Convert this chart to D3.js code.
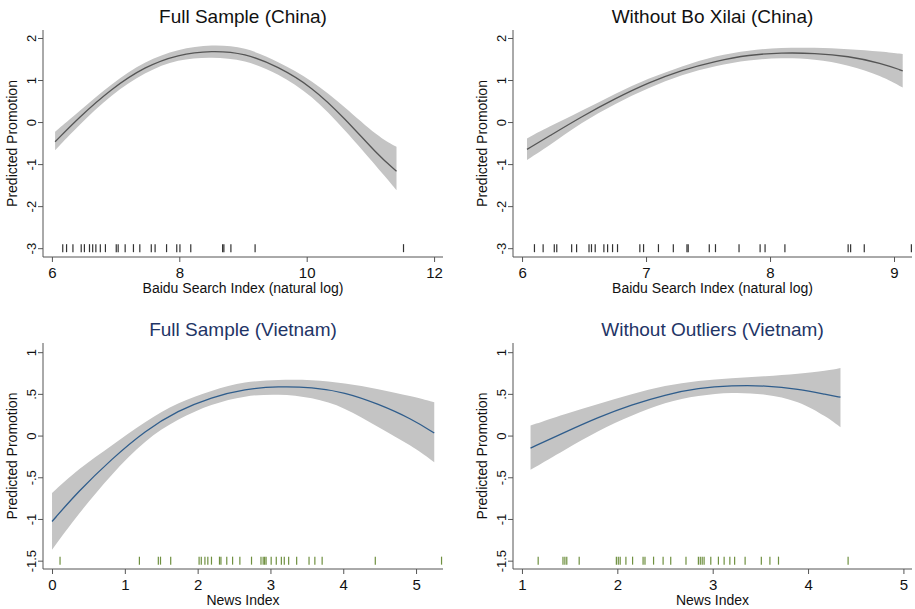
<!DOCTYPE html>
<html>
<head>
<meta charset="utf-8">
<script src="https://cdn.jsdelivr.net/npm/d3@7"></script>
<style>
    body { margin: 0; background: #fff; }
    svg { display: block; font-family: "Liberation Sans", Arial, Helvetica, sans-serif; }
</style>
</head>
<body>
<svg id="chart" width="915" height="609"></svg>
<script>
// --- data ---

// China, full sample
const chinaFullX   = [6.05, 6.41, 6.94, 7.46, 7.98, 8.51, 9.03, 9.55, 10.08, 10.60, 11.12, 11.41];
const chinaFullFit = [-0.47, 0.09, 0.80, 1.32, 1.61, 1.70, 1.64, 1.32, 0.84, 0.09, -0.79, -1.17];
const chinaFullHi  = [-0.23, 0.23, 0.92, 1.45, 1.74, 1.85, 1.79, 1.44, 1.00, 0.36, -0.35, -0.59];
const chinaFullLo  = [-0.67, -0.09, 0.66, 1.19, 1.50, 1.55, 1.48, 1.16, 0.64, -0.19, -1.10, -1.62];
const chinaFullRug = [6.17, 6.23, 6.33, 6.46, 6.51, 6.59, 6.64, 6.69, 6.76, 6.84, 7.01, 7.04, 7.15,
    7.28, 7.38, 7.56, 7.62, 7.80, 7.96, 8.01, 8.18, 8.68, 8.70, 8.81, 9.19, 11.52];

// China, without Bo Xilai
const chinaNoBoX   = [6.04, 6.21, 6.48, 6.75, 7.02, 7.29, 7.56, 7.83, 8.09, 8.36, 8.63, 8.90, 9.07];
const chinaNoBoFit = [-0.65, -0.35, 0.13, 0.56, 0.94, 1.24, 1.45, 1.60, 1.65, 1.64, 1.57, 1.40, 1.22];
const chinaNoBoHi  = [-0.39, -0.12, 0.26, 0.68, 1.04, 1.33, 1.58, 1.71, 1.77, 1.77, 1.74, 1.68, 1.62];
const chinaNoBoLo  = [-0.90, -0.58, -0.01, 0.44, 0.81, 1.13, 1.34, 1.48, 1.53, 1.50, 1.36, 1.10, 0.82];
const chinaNoBoRug = [6.10, 6.17, 6.26, 6.28, 6.40, 6.44, 6.54, 6.56, 6.59, 6.66, 6.69, 6.73, 6.77,
    6.95, 6.98, 7.10, 7.22, 7.33, 7.34, 7.51, 7.56, 7.75, 7.92, 7.96, 8.12, 8.63, 8.65, 8.76, 9.14];

// Vietnam, full sample
const vnFullX   = [0.00, 0.36, 0.82, 1.28, 1.73, 2.19, 2.65, 3.11, 3.57, 4.02, 4.48, 4.94, 5.25];
const vnFullFit = [-1.03, -0.67, -0.28, 0.06, 0.30, 0.46, 0.56, 0.59, 0.58, 0.52, 0.38, 0.20, 0.03];
const vnFullHi  = [-0.69, -0.40, -0.12, 0.17, 0.40, 0.54, 0.65, 0.67, 0.67, 0.63, 0.56, 0.47, 0.40];
const vnFullLo  = [-1.37, -0.94, -0.46, -0.05, 0.20, 0.38, 0.48, 0.50, 0.46, 0.34, 0.10, -0.12, -0.32];
const vnFullRug = [0.11, 1.20, 1.46, 1.49, 1.63, 2.02, 2.05, 2.10, 2.14, 2.19, 2.30, 2.32, 2.40, 2.48,
    2.58, 2.74, 2.87, 2.90, 2.92, 2.94, 3.01, 3.08, 3.15, 3.19, 3.25, 3.36, 3.53, 3.61, 3.71, 4.44, 5.35];

// Vietnam, without outliers
const vnNoOutX   = [1.09, 1.45, 1.80, 2.15, 2.50, 2.85, 3.20, 3.55, 3.90, 4.20, 4.34];
const vnNoOutFit = [-0.15, 0.04, 0.22, 0.37, 0.49, 0.57, 0.60, 0.60, 0.56, 0.49, 0.46];
const vnNoOutHi  = [0.12, 0.26, 0.38, 0.50, 0.60, 0.66, 0.69, 0.71, 0.74, 0.78, 0.81];
const vnNoOutLo  = [-0.41, -0.17, 0.06, 0.24, 0.40, 0.48, 0.52, 0.50, 0.42, 0.22, 0.10];
const vnNoOutRug = [1.17, 1.43, 1.45, 1.47, 1.60, 1.99, 2.01, 2.03, 2.09, 2.16, 2.27, 2.29, 2.38, 2.48,
    2.56, 2.72, 2.85, 2.87, 2.89, 2.91, 2.98, 3.06, 3.12, 3.18, 3.23, 3.34, 3.51, 3.60, 3.69, 4.42];

// ticks
const chinaFullTicksX = [6, 8, 10, 12];
const chinaNoBoTicksX = [6, 7, 8, 9];
const vnFullTicksX = [0, 1, 2, 3, 4, 5];
const vnNoOutTicksX = [1, 2, 3, 4, 5];
const chinaTicksY = [-3, -2, -1, 0, 1, 2];
const vnTicksY = [-1.5, -1, -0.5, 0, 0.5, 1];

const titles = ['Full Sample (China)', 'Without Bo Xilai (China)', 'Full Sample (Vietnam)', 'Without Outliers (Vietnam)'];
const xTitles = ['Baidu Search Index (natural log)', 'Baidu Search Index (natural log)', 'News Index', 'News Index'];
const yTitle = 'Predicted Promotion';

(function () {
    'use strict';

    const svg = d3.select('#chart');
    const BAND = '#c4c4c4';

    const china = { line: '#555', rug: '#333', title: '#111', yDomain: [-3.21, 2.19], yTicks: chinaTicksY, rugAt: -3 };
    const vietnam = { line: '#2f5d8c', rug: '#6f9040', title: '#1f3566', yDomain: [-1.6, 1.11], yTicks: vnTicksY, rugAt: -1.5 };

    const panels = [
        { x: chinaFullX, fit: chinaFullFit, hi: chinaFullHi, lo: chinaFullLo, rug: chinaFullRug, xTicks: chinaFullTicksX,
          xDomain: [5.86, 12.14], box: [43, 30, 443, 257], look: china },
        { x: chinaNoBoX, fit: chinaNoBoFit, hi: chinaNoBoHi, lo: chinaNoBoLo, rug: chinaNoBoRug, xTicks: chinaNoBoTicksX,
          xDomain: [5.927, 9.145], box: [513, 30, 912, 257], look: china },
        { x: vnFullX, fit: vnFullFit, hi: vnFullHi, lo: vnFullLo, rug: vnFullRug, xTicks: vnFullTicksX,
          xDomain: [-0.124, 5.37], box: [43, 343, 443, 569], look: vietnam },
        { x: vnNoOutX, fit: vnNoOutFit, hi: vnNoOutHi, lo: vnNoOutLo, rug: vnNoOutRug, xTicks: vnNoOutTicksX,
          xDomain: [0.906, 5.09], box: [513, 343, 912, 569], look: vietnam }
    ];

    // stata style numbers: .5, -.5, -1.5
    const fmt = d => String(d).replace('0.', '.');

    panels.forEach((p, i) => {
        const [left, top, right, bottom] = p.box;
        const x = d3.scaleLinear().domain(p.xDomain).range([left, right]);
        const y = d3.scaleLinear().domain(p.look.yDomain).range([bottom, top]);
        const rows = p.x.map((v, k) => ({ x: v, fit: p.fit[k], hi: p.hi[k], lo: p.lo[k] }));
        const g = svg.append('g').attr('class', 'panel panel-' + i);

        g.append('path')
            .datum(rows)
            .attr('fill', BAND)
            .attr('d', d3.area().curve(d3.curveBasis).x(d => x(d.x)).y0(d => y(d.lo)).y1(d => y(d.hi)));

        g.append('path')
            .datum(rows)
            .attr('fill', 'none')
            .attr('stroke', p.look.line)
            .attr('stroke-width', 1.3)
            .attr('d', d3.line().curve(d3.curveBasis).x(d => x(d.x)).y(d => y(d.fit)));

        g.selectAll('line.rug')
            .data(p.rug)
            .enter()
            .append('line')
            .attr('class', 'rug')
            .attr('x1', d => x(d)).attr('x2', d => x(d))
            .attr('y1', y(p.look.rugAt) - 4).attr('y2', y(p.look.rugAt) + 4)
            .attr('stroke', p.look.rug)
            .attr('stroke-width', 1.2);

        // axes
        const xAxis = g.append('g')
            .attr('transform', `translate(0,${bottom})`)
            .call(d3.axisBottom(x).tickValues(p.xTicks).tickFormat(fmt).tickSize(5).tickPadding(5));
        xAxis.selectAll('text').attr('font-size', 15).attr('fill', '#111');

        const yAxis = g.append('g')
            .attr('transform', `translate(${left},0)`)
            .call(d3.axisLeft(y).tickValues(p.look.yTicks).tickFormat(fmt).tickSize(5));
        yAxis.selectAll('text')
            .attr('transform', 'rotate(-90)')
            .attr('x', 0).attr('y', -7).attr('dy', 0)
            .attr('font-size', 13)
            .attr('fill', '#111')
            .style('text-anchor', 'middle');

        [xAxis, yAxis].forEach(a => {
            a.select('.domain').attr('d', null);
            a.selectAll('.tick line').attr('stroke', '#555');
        });
        g.append('line').attr('x1', left).attr('x2', right).attr('y1', bottom).attr('y2', bottom).attr('stroke', '#555');
        g.append('line').attr('x1', left).attr('x2', left).attr('y1', top).attr('y2', bottom).attr('stroke', '#555');

        // titles
        g.append('text')
            .attr('x', (left + right) / 2).attr('y', top - 7)
            .attr('text-anchor', 'middle')
            .attr('font-size', 19)
            .attr('fill', p.look.title)
            .text(titles[i]);

        g.append('text')
            .attr('x', (left + right) / 2).attr('y', bottom + 36)
            .attr('text-anchor', 'middle')
            .attr('font-size', 14)
            .attr('fill', '#111')
            .text(xTitles[i]);

        g.append('text')
            .attr('transform', `translate(${left - 26},${(top + bottom) / 2}) rotate(-90)`)
            .attr('text-anchor', 'middle')
            .attr('font-size', 14)
            .attr('fill', '#111')
            .text(yTitle);
    });
})();
</script>
</body>
</html>
